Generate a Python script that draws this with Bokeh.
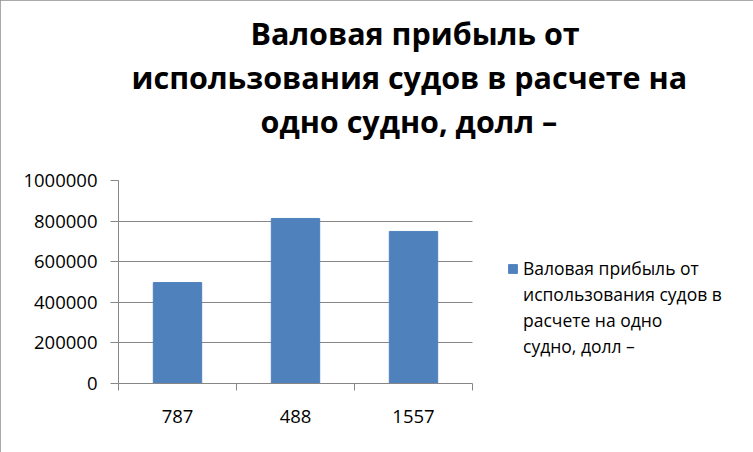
from bokeh.plotting import figure
from bokeh.models import FixedTicker, BasicTickFormatter, Range1d, ColumnDataSource, Title, Legend, LegendItem
from bokeh.embed import file_html
from bokeh.resources import INLINE

categories = ["787", "488", "1557"]
values = [497000, 813000, 749000]
title_lines = ["Валовая прибыль от", "использования судов в расчете на", "одно судно, долл –"]
legend_lines = ["Валовая прибыль от", "использования судов в", "расчете на одно", "судно, долл –"]
y_ticks = [0, 200000, 400000, 600000, 800000, 1000000]

W, H = 753, 452
FL, FR, FT, FB = 118, 472, 180, 383   # axis box of the bars
FRAME_R = 745                          # frame extends right to hold the legend
FONT = "Open Sans"
BAR = "#4F81BD"
GRID = "#868686"

n = len(categories)
xs = [i + 0.5 for i in range(n)]
src = ColumnDataSource(dict(x=xs, top=values))
x_end = n * (FRAME_R - FL) / (FR - FL)

p = figure(width=W, height=H, output_backend="svg", toolbar_location=None,
           x_range=Range1d(0, x_end), y_range=Range1d(0, 1000000),
           min_border_left=FL, min_border_right=W - FRAME_R, min_border_top=FT, min_border_bottom=H - FB)
p.title = None
p.styles = {"outline": "2px solid #8c8c8c", "outline-offset": "-2px"}
p.outline_line_color = None
p.background_fill_color = "white"
p.border_fill_color = "white"

r = p.vbar(x="x", top="top", width=0.41, source=src, color=BAR)

# y axis
ya = p.yaxis[0]
ya.ticker = FixedTicker(ticks=y_ticks)
ya.formatter = BasicTickFormatter(use_scientific=False)
ya.axis_line_color = GRID
ya.major_tick_line_color = GRID
ya.major_tick_out = 8
ya.major_tick_in = 0
ya.minor_tick_line_color = None
ya.major_label_text_font = FONT
ya.major_label_text_font_size = "18.5px"
ya.major_label_text_color = "#000000"
ya.major_label_standoff = 13

# x axis (only over the categories)
xa = p.xaxis[0]
xa.bounds = (0, n)
xa.ticker = FixedTicker(ticks=xs, minor_ticks=list(range(n + 1)))
xa.major_label_overrides = {x: c for x, c in zip(xs, categories)}
xa.axis_line_color = GRID
xa.major_tick_line_color = None
xa.minor_tick_line_color = GRID
xa.minor_tick_out = 7
xa.minor_tick_in = 0
xa.major_label_text_font = FONT
xa.major_label_text_font_size = "18.5px"
xa.major_label_text_color = "#000000"
xa.major_label_standoff = 19

p.xgrid.grid_line_color = None
try:
    p.ygrid.cross_bounds = (0, n)
    p.ygrid.ticker = FixedTicker(ticks=y_ticks)
    p.ygrid.grid_line_color = GRID
except AttributeError:
    p.ygrid.grid_line_color = None
    p.segment(x0=[0] * len(y_ticks), x1=[n] * len(y_ticks), y0=y_ticks, y1=y_ticks,
              line_color=GRID, line_width=1, level="underlay")

# title: spacer nearest to the frame, then the three lines (inner to outer)
p.add_layout(Title(text=" ", text_font=FONT, text_font_size="20px", standoff=10), "above")
title_offsets = [132, 13, 142]
for t, off in reversed(list(zip(title_lines, title_offsets))):
    p.add_layout(Title(text=t, align="left", offset=off, standoff=0,
                       text_font=FONT, text_font_size="30.5px", text_font_style="bold",
                       text_color="#000000"), "above")

dummy = [p.vbar(x=[], top=[], width=0.41, fill_alpha=0, line_alpha=0) for _ in legend_lines[1:]]
items = [LegendItem(label=legend_lines[0], renderers=[r])]
items += [LegendItem(label=t, renderers=[d]) for t, d in zip(legend_lines[1:], dummy)]
legend = Legend(items=items, location=(507 - FL, 24), border_line_color=None, background_fill_alpha=0,
                label_text_font=FONT, label_text_font_size="17.5px", label_text_color="#000000",
                label_height=26, glyph_width=11, glyph_height=11, label_standoff=5,
                spacing=0, margin=0, padding=0)
p.add_layout(legend, "center")

open("out.html", "w").write(file_html(p, INLINE))
